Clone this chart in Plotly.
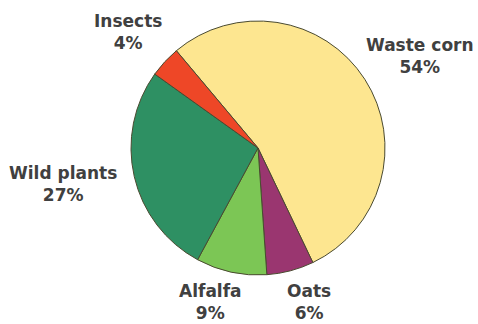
import plotly.graph_objects as go

W, H = 478, 324
labels = ["Waste corn", "Oats", "Alfalfa", "Wild plants", "Insects"]
values = [54, 6, 9, 27, 4]
colors = ["#FDE690", "#9A3670", "#7CC655", "#2E9063", "#EE4727"]
# label anchor positions in pixels (x center, y center of first line)
label_px = [(420, 44), (309, 290), (210, 290), (63, 172), (128, 20)]

fig = go.Figure()
cx, cy, r = 258, 148, 127
fig.add_trace(go.Pie(
    labels=labels, values=values, sort=False, direction="clockwise",
    rotation=-40, textinfo="none", hoverinfo="label+percent",
    marker=dict(colors=colors, line=dict(color="#4a4a30", width=1)),
    domain=dict(x=[(cx - r) / W, (cx + r) / W], y=[1 - (cy + r) / H, 1 - (cy - r) / H]),
    showlegend=False,
))
for lab, v, (px, py) in zip(labels, values, label_px):
    fig.add_annotation(
        x=px / W, y=1 - (py - 11.5) / H, xref="paper", yref="paper",
        xanchor="center", yanchor="top", showarrow=False,
        text=f"<b>{lab}<br>{v}%</b>", align="center",
        font=dict(family="DejaVu Sans", size=17, color="#404040"),
    )
fig.update_layout(width=W, height=H, margin=dict(l=0, r=0, t=0, b=0),
                  paper_bgcolor="white", plot_bgcolor="white")
fig.write_html("out.html")
